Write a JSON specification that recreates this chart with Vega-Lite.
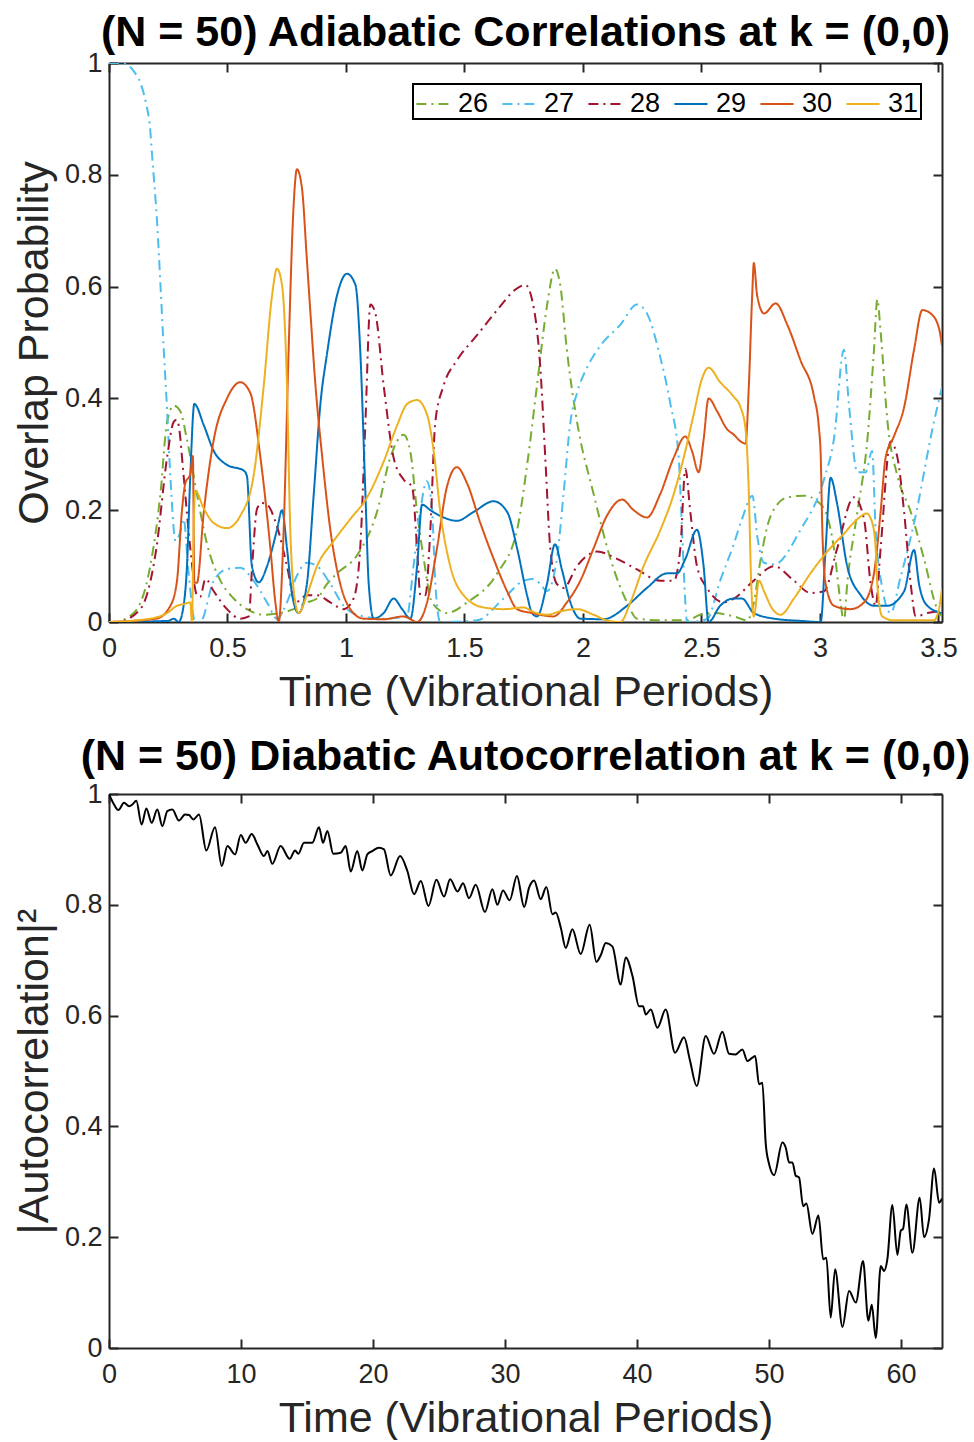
{
"$schema": "https://vega.github.io/schema/vega-lite/v6.json",
"background": "white",
"autosize": {"type": "pad"},
"padding": {"left": 13, "top": 12, "right": 0, "bottom": 0},
"spacing": 22,
"config": {
  "font": "Liberation Sans",
  "view": {"stroke": null},
  "axis": {"domainColor": "#262626", "domainWidth": 2, "tickColor": "#262626", "tickWidth": 2, "tickSize": -9, "labelFont": "Liberation Sans", "labelFontSize": 27, "labelColor": "#262626", "titleFont": "Liberation Sans", "titleFontSize": 43, "titleFontWeight": "normal", "titleColor": "#262626", "grid": false, "labelFlush": false, "labelOverlap": false},
  "title": {"font": "Liberation Sans", "fontSize": 43, "fontWeight": "bold", "color": "black", "frame": "group", "anchor": "middle", "offset": -6}
},
"datasets": {
"top": [
{"s":"26","t":0,"v":0},{"s":"26","t":0.02,"v":0},{"s":"26","t":0.104,"v":0.016},{"s":"26","t":0.174,"v":0.1},{"s":"26","t":0.217,"v":0.229},{"s":"26","t":0.245,"v":0.358},{"s":"26","t":0.273,"v":0.387},{"s":"26","t":0.301,"v":0.377},{"s":"26","t":0.329,"v":0.326},{"s":"26","t":0.371,"v":0.229},{"s":"26","t":0.414,"v":0.139},{"s":"26","t":0.47,"v":0.074},{"s":"26","t":0.526,"v":0.042},{"s":"26","t":0.582,"v":0.023},{"s":"26","t":0.653,"v":0.013},{"s":"26","t":0.723,"v":0.016},{"s":"26","t":0.779,"v":0.023},{"s":"26","t":0.835,"v":0.035},{"s":"26","t":0.878,"v":0.042},{"s":"26","t":0.92,"v":0.068},{"s":"26","t":0.962,"v":0.087},{"s":"26","t":1.046,"v":0.119},{"s":"26","t":1.131,"v":0.197},{"s":"26","t":1.187,"v":0.294},{"s":"26","t":1.243,"v":0.335},{"s":"26","t":1.271,"v":0.306},{"s":"26","t":1.3,"v":0.197},{"s":"26","t":1.328,"v":0.113},{"s":"26","t":1.363,"v":0.035},{"s":"26","t":1.426,"v":0.016},{"s":"26","t":1.511,"v":0.035},{"s":"26","t":1.638,"v":0.087},{"s":"26","t":1.722,"v":0.165},{"s":"26","t":1.764,"v":0.28},{"s":"26","t":1.806,"v":0.423},{"s":"26","t":1.848,"v":0.565},{"s":"26","t":1.882,"v":0.632},{"s":"26","t":1.904,"v":0.603},{"s":"26","t":1.932,"v":0.487},{"s":"26","t":1.975,"v":0.358},{"s":"26","t":2.045,"v":0.229},{"s":"26","t":2.116,"v":0.113},{"s":"26","t":2.186,"v":0.035},{"s":"26","t":2.228,"v":0.006},{"s":"26","t":2.327,"v":0.003},{"s":"26","t":2.439,"v":0.003},{"s":"26","t":2.495,"v":0.013},{"s":"26","t":2.552,"v":0.016},{"s":"26","t":2.637,"v":0.01},{"s":"26","t":2.693,"v":0.003},{"s":"26","t":2.721,"v":0.035},{"s":"26","t":2.75,"v":0.113},{"s":"26","t":2.792,"v":0.19},{"s":"26","t":2.862,"v":0.223},{"s":"26","t":2.932,"v":0.226},{"s":"26","t":2.989,"v":0.216},{"s":"26","t":3.03,"v":0.19},{"s":"26","t":3.059,"v":0.132},{"s":"26","t":3.087,"v":0.035},{"s":"26","t":3.101,"v":0},{"s":"26","t":3.115,"v":0.068},{"s":"26","t":3.158,"v":0.197},{"s":"26","t":3.2,"v":0.326},{"s":"26","t":3.228,"v":0.487},{"s":"26","t":3.242,"v":0.577},{"s":"26","t":3.256,"v":0.519},{"s":"26","t":3.285,"v":0.358},{"s":"26","t":3.327,"v":0.261},{"s":"26","t":3.383,"v":0.197},{"s":"26","t":3.439,"v":0.113},{"s":"26","t":3.495,"v":0.023},{"s":"26","t":3.515,"v":0.01},
{"s":"27","t":0,"v":1},{"s":"27","t":0.05,"v":1},{"s":"27","t":0.076,"v":0.997},{"s":"27","t":0.105,"v":0.985},{"s":"27","t":0.132,"v":0.965},{"s":"27","t":0.155,"v":0.93},{"s":"27","t":0.174,"v":0.88},{"s":"27","t":0.182,"v":0.834},{"s":"27","t":0.203,"v":0.714},{"s":"27","t":0.218,"v":0.596},{"s":"27","t":0.232,"v":0.48},{"s":"27","t":0.245,"v":0.38},{"s":"27","t":0.26,"v":0.252},{"s":"27","t":0.281,"v":0.145},{"s":"27","t":0.3,"v":0.16},{"s":"27","t":0.315,"v":0.184},{"s":"27","t":0.336,"v":0.087},{"s":"27","t":0.364,"v":0},{"s":"27","t":0.385,"v":0},{"s":"27","t":0.442,"v":0.074},{"s":"27","t":0.5,"v":0.095},{"s":"27","t":0.554,"v":0.097},{"s":"27","t":0.61,"v":0.074},{"s":"27","t":0.667,"v":0.035},{"s":"27","t":0.709,"v":0.006},{"s":"27","t":0.751,"v":0.035},{"s":"27","t":0.79,"v":0.08},{"s":"27","t":0.835,"v":0.106},{"s":"27","t":0.878,"v":0.1},{"s":"27","t":0.934,"v":0.068},{"s":"27","t":0.99,"v":0.029},{"s":"27","t":1.046,"v":0.013},{"s":"27","t":1.159,"v":0.006},{"s":"27","t":1.257,"v":0.01},{"s":"27","t":1.285,"v":0.1},{"s":"27","t":1.313,"v":0.197},{"s":"27","t":1.341,"v":0.252},{"s":"27","t":1.363,"v":0.203},{"s":"27","t":1.377,"v":0.068},{"s":"27","t":1.398,"v":0},{"s":"27","t":1.553,"v":0.003},{"s":"27","t":1.665,"v":0.042},{"s":"27","t":1.75,"v":0.074},{"s":"27","t":1.785,"v":0.077},{"s":"27","t":1.82,"v":0.068},{"s":"27","t":1.848,"v":0.055},{"s":"27","t":1.89,"v":0.113},{"s":"27","t":1.918,"v":0.229},{"s":"27","t":1.947,"v":0.358},{"s":"27","t":1.975,"v":0.41},{"s":"27","t":2.017,"v":0.455},{"s":"27","t":2.073,"v":0.494},{"s":"27","t":2.158,"v":0.532},{"s":"27","t":2.228,"v":0.568},{"s":"27","t":2.27,"v":0.552},{"s":"27","t":2.326,"v":0.474},{"s":"27","t":2.369,"v":0.39},{"s":"27","t":2.404,"v":0.294},{"s":"27","t":2.418,"v":0.165},{"s":"27","t":2.432,"v":0.035},{"s":"27","t":2.439,"v":0},{"s":"27","t":2.523,"v":0.005},{"s":"27","t":2.579,"v":0.074},{"s":"27","t":2.636,"v":0.139},{"s":"27","t":2.671,"v":0.184},{"s":"27","t":2.715,"v":0.226},{"s":"27","t":2.736,"v":0.152},{"s":"27","t":2.764,"v":0.106},{"s":"27","t":2.806,"v":0.103},{"s":"27","t":2.918,"v":0.165},{"s":"27","t":3.017,"v":0.255},{"s":"27","t":3.06,"v":0.33},{"s":"27","t":3.101,"v":0.487},{"s":"27","t":3.122,"v":0.39},{"s":"27","t":3.158,"v":0.268},{"s":"27","t":3.193,"v":0.268},{"s":"27","t":3.22,"v":0.306},{"s":"27","t":3.235,"v":0.165},{"s":"27","t":3.263,"v":0.061},{"s":"27","t":3.298,"v":0.016},{"s":"27","t":3.34,"v":0.08},{"s":"27","t":3.397,"v":0.177},{"s":"27","t":3.481,"v":0.358},{"s":"27","t":3.515,"v":0.42},
{"s":"28","t":0,"v":0},{"s":"28","t":0.034,"v":0},{"s":"28","t":0.132,"v":0.023},{"s":"28","t":0.2,"v":0.132},{"s":"28","t":0.245,"v":0.294},{"s":"28","t":0.273,"v":0.358},{"s":"28","t":0.285,"v":0.362},{"s":"28","t":0.294,"v":0.352},{"s":"28","t":0.315,"v":0.261},{"s":"28","t":0.343,"v":0.132},{"s":"28","t":0.371,"v":0.048},{"s":"28","t":0.385,"v":0.045},{"s":"28","t":0.407,"v":0.077},{"s":"28","t":0.442,"v":0.055},{"s":"28","t":0.498,"v":0.023},{"s":"28","t":0.554,"v":0.006},{"s":"28","t":0.59,"v":0.01},{"s":"28","t":0.604,"v":0.1},{"s":"28","t":0.625,"v":0.203},{"s":"28","t":0.645,"v":0.213},{"s":"28","t":0.667,"v":0.21},{"s":"28","t":0.709,"v":0.171},{"s":"28","t":0.751,"v":0.1},{"s":"28","t":0.787,"v":0.035},{"s":"28","t":0.835,"v":0.048},{"s":"28","t":0.878,"v":0.048},{"s":"28","t":0.934,"v":0.035},{"s":"28","t":0.99,"v":0.023},{"s":"28","t":1.032,"v":0.042},{"s":"28","t":1.06,"v":0.132},{"s":"28","t":1.082,"v":0.358},{"s":"28","t":1.103,"v":0.568},{"s":"28","t":1.124,"v":0.552},{"s":"28","t":1.159,"v":0.423},{"s":"28","t":1.201,"v":0.294},{"s":"28","t":1.243,"v":0.255},{"s":"28","t":1.279,"v":0.242},{"s":"28","t":1.3,"v":0.132},{"s":"28","t":1.314,"v":0.048},{"s":"28","t":1.335,"v":0.048},{"s":"28","t":1.356,"v":0.165},{"s":"28","t":1.377,"v":0.358},{"s":"28","t":1.412,"v":0.423},{"s":"28","t":1.468,"v":0.468},{"s":"28","t":1.553,"v":0.513},{"s":"28","t":1.638,"v":0.558},{"s":"28","t":1.722,"v":0.597},{"s":"28","t":1.757,"v":0.603},{"s":"28","t":1.785,"v":0.577},{"s":"28","t":1.82,"v":0.455},{"s":"28","t":1.841,"v":0.294},{"s":"28","t":1.862,"v":0.132},{"s":"28","t":1.89,"v":0.068},{"s":"28","t":1.918,"v":0.061},{"s":"28","t":1.975,"v":0.1},{"s":"28","t":2.059,"v":0.126},{"s":"28","t":2.144,"v":0.113},{"s":"28","t":2.228,"v":0.094},{"s":"28","t":2.327,"v":0.074},{"s":"28","t":2.383,"v":0.074},{"s":"28","t":2.411,"v":0.132},{"s":"28","t":2.432,"v":0.274},{"s":"28","t":2.453,"v":0.197},{"s":"28","t":2.481,"v":0.1},{"s":"28","t":2.523,"v":0.061},{"s":"28","t":2.594,"v":0.035},{"s":"28","t":2.637,"v":0.042},{"s":"28","t":2.721,"v":0.074},{"s":"28","t":2.806,"v":0.1},{"s":"28","t":2.89,"v":0.074},{"s":"28","t":2.96,"v":0.052},{"s":"28","t":3.017,"v":0.055},{"s":"28","t":3.073,"v":0.132},{"s":"28","t":3.143,"v":0.223},{"s":"28","t":3.186,"v":0.184},{"s":"28","t":3.214,"v":0.068},{"s":"28","t":3.235,"v":0.029},{"s":"28","t":3.256,"v":0.132},{"s":"28","t":3.298,"v":0.323},{"s":"28","t":3.327,"v":0.294},{"s":"28","t":3.355,"v":0.197},{"s":"28","t":3.383,"v":0.068},{"s":"28","t":3.404,"v":0.01},{"s":"28","t":3.453,"v":0.016},{"s":"28","t":3.515,"v":0.02},
{"s":"29","t":0,"v":0},{"s":"29","t":0.25,"v":0.002},{"s":"29","t":0.273,"v":0.006},{"s":"29","t":0.294,"v":0},{"s":"29","t":0.315,"v":0.03},{"s":"29","t":0.329,"v":0.1},{"s":"29","t":0.343,"v":0.261},{"s":"29","t":0.36,"v":0.39},{"s":"29","t":0.4,"v":0.352},{"s":"29","t":0.442,"v":0.306},{"s":"29","t":0.498,"v":0.281},{"s":"29","t":0.568,"v":0.271},{"s":"29","t":0.582,"v":0.261},{"s":"29","t":0.603,"v":0.1},{"s":"29","t":0.632,"v":0.071},{"s":"29","t":0.667,"v":0.1},{"s":"29","t":0.709,"v":0.165},{"s":"29","t":0.73,"v":0.2},{"s":"29","t":0.751,"v":0.132},{"s":"29","t":0.773,"v":0.048},{"s":"29","t":0.8,"v":0.016},{"s":"29","t":0.835,"v":0.068},{"s":"29","t":0.864,"v":0.229},{"s":"29","t":0.892,"v":0.39},{"s":"29","t":0.92,"v":0.48},{"s":"29","t":0.962,"v":0.584},{"s":"29","t":1.004,"v":0.623},{"s":"29","t":1.04,"v":0.603},{"s":"29","t":1.06,"v":0.487},{"s":"29","t":1.082,"v":0.229},{"s":"29","t":1.096,"v":0.068},{"s":"29","t":1.117,"v":0.006},{"s":"29","t":1.159,"v":0.016},{"s":"29","t":1.201,"v":0.042},{"s":"29","t":1.237,"v":0.023},{"s":"29","t":1.272,"v":0.006},{"s":"29","t":1.3,"v":0.1},{"s":"29","t":1.321,"v":0.21},{"s":"29","t":1.356,"v":0.2},{"s":"29","t":1.412,"v":0.187},{"s":"29","t":1.468,"v":0.181},{"s":"29","t":1.539,"v":0.197},{"s":"29","t":1.623,"v":0.216},{"s":"29","t":1.68,"v":0.197},{"s":"29","t":1.722,"v":0.132},{"s":"29","t":1.764,"v":0.048},{"s":"29","t":1.785,"v":0.016},{"s":"29","t":1.806,"v":0.01},{"s":"29","t":1.848,"v":0.068},{"s":"29","t":1.882,"v":0.139},{"s":"29","t":1.911,"v":0.094},{"s":"29","t":1.947,"v":0.035},{"s":"29","t":1.989,"v":0.006},{"s":"29","t":2.087,"v":0.005},{"s":"29","t":2.186,"v":0.029},{"s":"29","t":2.27,"v":0.061},{"s":"29","t":2.355,"v":0.087},{"s":"29","t":2.397,"v":0.087},{"s":"29","t":2.432,"v":0.113},{"s":"29","t":2.481,"v":0.165},{"s":"29","t":2.509,"v":0.1},{"s":"29","t":2.53,"v":0},{"s":"29","t":2.579,"v":0.029},{"s":"29","t":2.636,"v":0.042},{"s":"29","t":2.671,"v":0.042},{"s":"29","t":2.721,"v":0.016},{"s":"29","t":2.806,"v":0.006},{"s":"29","t":2.918,"v":0.002},{"s":"29","t":3.003,"v":0},{"s":"29","t":3.024,"v":0.132},{"s":"29","t":3.045,"v":0.258},{"s":"29","t":3.073,"v":0.21},{"s":"29","t":3.115,"v":0.1},{"s":"29","t":3.172,"v":0.048},{"s":"29","t":3.228,"v":0.029},{"s":"29","t":3.284,"v":0.029},{"s":"29","t":3.355,"v":0.055},{"s":"29","t":3.397,"v":0.129},{"s":"29","t":3.418,"v":0.068},{"s":"29","t":3.453,"v":0.029},{"s":"29","t":3.515,"v":0.016},
{"s":"30","t":0,"v":0},{"s":"30","t":0.2,"v":0.006},{"s":"30","t":0.259,"v":0.029},{"s":"30","t":0.287,"v":0.074},{"s":"30","t":0.308,"v":0.2},{"s":"30","t":0.322,"v":0.248},{"s":"30","t":0.343,"v":0.265},{"s":"30","t":0.354,"v":0.297},{"s":"30","t":0.36,"v":0.07},{"s":"30","t":0.371,"v":0.07},{"s":"30","t":0.4,"v":0.197},{"s":"30","t":0.442,"v":0.326},{"s":"30","t":0.498,"v":0.4},{"s":"30","t":0.554,"v":0.429},{"s":"30","t":0.596,"v":0.41},{"s":"30","t":0.639,"v":0.294},{"s":"30","t":0.681,"v":0.132},{"s":"30","t":0.702,"v":0.035},{"s":"30","t":0.716,"v":0},{"s":"30","t":0.737,"v":0.165},{"s":"30","t":0.758,"v":0.487},{"s":"30","t":0.779,"v":0.745},{"s":"30","t":0.793,"v":0.81},{"s":"30","t":0.814,"v":0.777},{"s":"30","t":0.835,"v":0.648},{"s":"30","t":0.852,"v":0.54},{"s":"30","t":0.87,"v":0.43},{"s":"30","t":0.9,"v":0.294},{"s":"30","t":0.934,"v":0.165},{"s":"30","t":0.976,"v":0.068},{"s":"30","t":1.018,"v":0.023},{"s":"30","t":1.074,"v":0.006},{"s":"30","t":1.159,"v":0.005},{"s":"30","t":1.243,"v":0.01},{"s":"30","t":1.3,"v":0},{"s":"30","t":1.342,"v":0.035},{"s":"30","t":1.384,"v":0.132},{"s":"30","t":1.426,"v":0.242},{"s":"30","t":1.468,"v":0.277},{"s":"30","t":1.511,"v":0.248},{"s":"30","t":1.567,"v":0.177},{"s":"30","t":1.623,"v":0.113},{"s":"30","t":1.68,"v":0.055},{"s":"30","t":1.722,"v":0.023},{"s":"30","t":1.785,"v":0.016},{"s":"30","t":1.876,"v":0.01},{"s":"30","t":1.932,"v":0.035},{"s":"30","t":1.989,"v":0.074},{"s":"30","t":2.045,"v":0.132},{"s":"30","t":2.101,"v":0.19},{"s":"30","t":2.165,"v":0.219},{"s":"30","t":2.214,"v":0.2},{"s":"30","t":2.27,"v":0.187},{"s":"30","t":2.326,"v":0.229},{"s":"30","t":2.383,"v":0.294},{"s":"30","t":2.432,"v":0.332},{"s":"30","t":2.46,"v":0.306},{"s":"30","t":2.488,"v":0.268},{"s":"30","t":2.509,"v":0.326},{"s":"30","t":2.53,"v":0.4},{"s":"30","t":2.566,"v":0.377},{"s":"30","t":2.608,"v":0.345},{"s":"30","t":2.637,"v":0.335},{"s":"30","t":2.665,"v":0.323},{"s":"30","t":2.686,"v":0.319},{"s":"30","t":2.7,"v":0.423},{"s":"30","t":2.714,"v":0.584},{"s":"30","t":2.721,"v":0.642},{"s":"30","t":2.735,"v":0.584},{"s":"30","t":2.764,"v":0.552},{"s":"30","t":2.813,"v":0.57},{"s":"30","t":2.862,"v":0.532},{"s":"30","t":2.918,"v":0.468},{"s":"30","t":2.975,"v":0.403},{"s":"30","t":2.995,"v":0.35},{"s":"30","t":3.003,"v":0.3},{"s":"30","t":3.01,"v":0.165},{"s":"30","t":3.024,"v":0.068},{"s":"30","t":3.059,"v":0.029},{"s":"30","t":3.129,"v":0.023},{"s":"30","t":3.186,"v":0.035},{"s":"30","t":3.228,"v":0.087},{"s":"30","t":3.256,"v":0.197},{"s":"30","t":3.277,"v":0.294},{"s":"30","t":3.312,"v":0.332},{"s":"30","t":3.355,"v":0.384},{"s":"30","t":3.397,"v":0.487},{"s":"30","t":3.432,"v":0.558},{"s":"30","t":3.467,"v":0.552},{"s":"30","t":3.502,"v":0.526},{"s":"30","t":3.515,"v":0.494},
{"s":"31","t":0,"v":0},{"s":"31","t":0.174,"v":0.006},{"s":"31","t":0.245,"v":0.016},{"s":"31","t":0.287,"v":0.029},{"s":"31","t":0.315,"v":0.032},{"s":"31","t":0.343,"v":0.035},{"s":"31","t":0.35,"v":0},{"s":"31","t":0.357,"v":0.165},{"s":"31","t":0.364,"v":0.235},{"s":"31","t":0.4,"v":0.203},{"s":"31","t":0.442,"v":0.177},{"s":"31","t":0.498,"v":0.168},{"s":"31","t":0.554,"v":0.19},{"s":"31","t":0.61,"v":0.261},{"s":"31","t":0.653,"v":0.423},{"s":"31","t":0.688,"v":0.584},{"s":"31","t":0.709,"v":0.632},{"s":"31","t":0.73,"v":0.603},{"s":"31","t":0.751,"v":0.423},{"s":"31","t":0.765,"v":0.165},{"s":"31","t":0.786,"v":0.035},{"s":"31","t":0.8,"v":0.016},{"s":"31","t":0.835,"v":0.048},{"s":"31","t":0.878,"v":0.1},{"s":"31","t":0.948,"v":0.145},{"s":"31","t":1.018,"v":0.184},{"s":"31","t":1.089,"v":0.223},{"s":"31","t":1.159,"v":0.287},{"s":"31","t":1.216,"v":0.352},{"s":"31","t":1.258,"v":0.39},{"s":"31","t":1.3,"v":0.397},{"s":"31","t":1.342,"v":0.371},{"s":"31","t":1.37,"v":0.306},{"s":"31","t":1.398,"v":0.197},{"s":"31","t":1.44,"v":0.1},{"s":"31","t":1.496,"v":0.048},{"s":"31","t":1.581,"v":0.026},{"s":"31","t":1.665,"v":0.023},{"s":"31","t":1.75,"v":0.026},{"s":"31","t":1.785,"v":0.019},{"s":"31","t":1.848,"v":0.013},{"s":"31","t":1.904,"v":0.019},{"s":"31","t":1.975,"v":0.023},{"s":"31","t":2.045,"v":0.013},{"s":"31","t":2.101,"v":0.003},{"s":"31","t":2.158,"v":0},{"s":"31","t":2.2,"v":0.035},{"s":"31","t":2.256,"v":0.1},{"s":"31","t":2.327,"v":0.165},{"s":"31","t":2.383,"v":0.229},{"s":"31","t":2.425,"v":0.294},{"s":"31","t":2.467,"v":0.371},{"s":"31","t":2.502,"v":0.435},{"s":"31","t":2.53,"v":0.455},{"s":"31","t":2.579,"v":0.429},{"s":"31","t":2.636,"v":0.403},{"s":"31","t":2.665,"v":0.384},{"s":"31","t":2.686,"v":0.345},{"s":"31","t":2.7,"v":0.229},{"s":"31","t":2.71,"v":0.068},{"s":"31","t":2.721,"v":0.01},{"s":"31","t":2.743,"v":0.074},{"s":"31","t":2.764,"v":0.055},{"s":"31","t":2.8,"v":0.023},{"s":"31","t":2.834,"v":0.013},{"s":"31","t":2.89,"v":0.042},{"s":"31","t":2.96,"v":0.087},{"s":"31","t":3.031,"v":0.126},{"s":"31","t":3.101,"v":0.158},{"s":"31","t":3.158,"v":0.184},{"s":"31","t":3.197,"v":0.194},{"s":"31","t":3.221,"v":0.177},{"s":"31","t":3.235,"v":0.132},{"s":"31","t":3.242,"v":0.068},{"s":"31","t":3.263,"v":0.01},{"s":"31","t":3.312,"v":0.003},{"s":"31","t":3.481,"v":0.003},{"s":"31","t":3.502,"v":0.023},{"s":"31","t":3.515,"v":0.06}
],
"bottom": [
{"t":0,"v":1},{"t":0.38,"v":0.981},{"t":0.71,"v":0.971},{"t":1.14,"v":0.984},{"t":1.52,"v":0.978},{"t":1.77,"v":0.981},{"t":2.07,"v":0.988},{"t":2.47,"v":0.945},{"t":2.83,"v":0.974},{"t":3.23,"v":0.948},{"t":3.66,"v":0.972},{"t":4.04,"v":0.942},{"t":4.42,"v":0.969},{"t":4.8,"v":0.972},{"t":5.3,"v":0.952},{"t":5.76,"v":0.963},{"t":6.06,"v":0.962},{"t":6.39,"v":0.954},{"t":6.82,"v":0.963},{"t":7.37,"v":0.898},{"t":8.03,"v":0.94},{"t":8.54,"v":0.87},{"t":8.97,"v":0.906},{"t":9.55,"v":0.891},{"t":9.98,"v":0.926},{"t":10.35,"v":0.912},{"t":10.81,"v":0.928},{"t":11.24,"v":0.909},{"t":11.74,"v":0.888},{"t":12.0,"v":0.897},{"t":12.37,"v":0.874},{"t":13.0,"v":0.906},{"t":13.69,"v":0.883},{"t":14.09,"v":0.898},{"t":14.34,"v":0.892},{"t":14.77,"v":0.912},{"t":15.4,"v":0.912},{"t":15.91,"v":0.94},{"t":16.21,"v":0.912},{"t":16.54,"v":0.933},{"t":16.99,"v":0.892},{"t":17.55,"v":0.894},{"t":17.93,"v":0.906},{"t":18.31,"v":0.86},{"t":18.81,"v":0.897},{"t":19.19,"v":0.862},{"t":19.57,"v":0.891},{"t":19.95,"v":0.897},{"t":20.45,"v":0.903},{"t":20.83,"v":0.9},{"t":21.34,"v":0.853},{"t":22.05,"v":0.888},{"t":22.6,"v":0.861},{"t":23.11,"v":0.819},{"t":23.62,"v":0.843},{"t":24.2,"v":0.798},{"t":24.8,"v":0.845},{"t":25.38,"v":0.815},{"t":25.84,"v":0.846},{"t":26.4,"v":0.824},{"t":26.82,"v":0.839},{"t":27.27,"v":0.812},{"t":27.78,"v":0.836},{"t":28.48,"v":0.787},{"t":29.04,"v":0.828},{"t":29.42,"v":0.8},{"t":29.85,"v":0.826},{"t":30.35,"v":0.808},{"t":30.9,"v":0.852},{"t":31.45,"v":0.796},{"t":31.82,"v":0.831},{"t":32.2,"v":0.844},{"t":32.7,"v":0.81},{"t":33.13,"v":0.832},{"t":33.59,"v":0.783},{"t":33.84,"v":0.786},{"t":34.22,"v":0.759},{"t":34.6,"v":0.722},{"t":35.1,"v":0.756},{"t":35.73,"v":0.711},{"t":36.41,"v":0.764},{"t":36.92,"v":0.697},{"t":37.25,"v":0.709},{"t":37.63,"v":0.731},{"t":38.13,"v":0.725},{"t":38.76,"v":0.656},{"t":39.14,"v":0.705},{"t":39.65,"v":0.672},{"t":40.15,"v":0.617},{"t":40.45,"v":0.617},{"t":40.66,"v":0.602},{"t":41.04,"v":0.611},{"t":41.54,"v":0.578},{"t":42.17,"v":0.611},{"t":42.88,"v":0.533},{"t":43.56,"v":0.561},{"t":44.0,"v":0.52},{"t":44.52,"v":0.473},{"t":45.2,"v":0.563},{"t":45.83,"v":0.531},{"t":46.46,"v":0.571},{"t":46.97,"v":0.531},{"t":47.47,"v":0.53},{"t":47.98,"v":0.539},{"t":48.36,"v":0.518},{"t":48.74,"v":0.524},{"t":48.95,"v":0.527},{"t":49.24,"v":0.476},{"t":49.49,"v":0.479},{"t":49.75,"v":0.368},{"t":50.0,"v":0.332},{"t":50.38,"v":0.312},{"t":51.01,"v":0.371},{"t":51.26,"v":0.362},{"t":51.52,"v":0.335},{"t":51.77,"v":0.335},{"t":52.02,"v":0.311},{"t":52.27,"v":0.308},{"t":52.58,"v":0.256},{"t":52.83,"v":0.261},{"t":53.28,"v":0.206},{"t":53.74,"v":0.239},{"t":54.1,"v":0.16},{"t":54.34,"v":0.163},{"t":54.67,"v":0.055},{"t":55.0,"v":0.142},{"t":55.56,"v":0.038},{"t":56.06,"v":0.103},{"t":56.57,"v":0.082},{"t":57.12,"v":0.157},{"t":57.52,"v":0.049},{"t":57.78,"v":0.078},{"t":58.08,"v":0.018},{"t":58.46,"v":0.148},{"t":58.71,"v":0.139},{"t":58.96,"v":0.16},{"t":59.34,"v":0.258},{"t":59.72,"v":0.168},{"t":59.98,"v":0.212},{"t":60.15,"v":0.215},{"t":60.4,"v":0.259},{"t":60.86,"v":0.172},{"t":61.41,"v":0.271},{"t":61.74,"v":0.2},{"t":62.12,"v":0.233},{"t":62.5,"v":0.324},{"t":62.88,"v":0.262},{"t":63.1,"v":0.27}
]
},
"vconcat": [
{
  "width": 833, "height": 559,
  "title": "(N = 50) Adiabatic Correlations at k = (0,0)",
  "data": {"name": "top"},
  "resolve": {"axis": {"x": "independent", "y": "independent"}},
  "layer": [
    {
      "mark": {"type": "line", "interpolate": "monotone", "strokeWidth": 2, "clip": true},
      "encoding": {
        "x": {"field": "t", "type": "quantitative", "scale": {"domain": [0, 3.515], "nice": false, "zero": false},
              "axis": {"orient": "bottom", "values": [0, 0.5, 1, 1.5, 2, 2.5, 3, 3.5], "format": "~g", "title": "Time (Vibrational Periods)", "labelPadding": 22, "titlePadding": 10}},
        "y": {"field": "v", "type": "quantitative", "scale": {"domain": [0, 1], "nice": false, "zero": false},
              "axis": {"orient": "left", "values": [0, 0.2, 0.4, 0.6, 0.8, 1], "format": "~g", "title": "Overlap Probability", "labelPadding": 16, "titlePadding": 8}},
        "color": {"field": "s", "type": "nominal",
                  "scale": {"domain": ["26", "27", "28", "29", "30", "31"], "range": ["#77AC30", "#4DBEEE", "#A2142F", "#0072BD", "#D95319", "#EDB120"]},
                  "legend": {"title": null, "orient": "top-right", "offset": 21, "direction": "horizontal", "columns": 6, "symbolType": "stroke", "symbolSize": 1100, "symbolStrokeWidth": 2, "labelFontSize": 27, "labelColor": "black", "labelFont": "Liberation Sans", "labelOffset": 7, "columnPadding": 9, "padding": 2, "strokeColor": "black", "fillColor": "white",
                             "encode": {"legend": {"update": {"strokeWidth": {"value": 2}}}}}
        },
        "strokeDash": {"field": "s", "type": "nominal",
                       "scale": {"domain": ["26", "27", "28", "29", "30", "31"], "range": [[10, 5, 2, 5], [10, 5, 2, 5], [10, 5, 2, 5], [1, 0], [1, 0], [1, 0]]}}
      }
    },
    {
      "mark": {"type": "line", "opacity": 0},
      "encoding": {
        "x": {"field": "t", "type": "quantitative", "axis": {"orient": "top", "values": [0, 0.5, 1, 1.5, 2, 2.5, 3, 3.5], "labels": false, "title": null}},
        "y": {"field": "v", "type": "quantitative", "axis": {"orient": "right", "values": [0, 0.2, 0.4, 0.6, 0.8, 1], "labels": false, "title": null}}
      }
    }
  ]
},
{
  "width": 833, "height": 554,
  "title": {"text": "(N = 50) Diabatic Autocorrelation at k = (0,0)", "offset": 1},
  "data": {"name": "bottom"},
  "resolve": {"axis": {"x": "independent", "y": "independent"}},
  "layer": [
    {
      "mark": {"type": "line", "interpolate": "monotone", "strokeWidth": 2, "color": "black", "clip": true},
      "encoding": {
        "x": {"field": "t", "type": "quantitative", "scale": {"domain": [0, 63.1], "nice": false, "zero": false},
              "axis": {"orient": "bottom", "values": [0, 10, 20, 30, 40, 50, 60], "format": "d", "title": "Time (Vibrational Periods)", "labelPadding": 22, "titlePadding": 10}},
        "y": {"field": "v", "type": "quantitative", "scale": {"domain": [0, 1], "nice": false, "zero": false},
              "axis": {"orient": "left", "values": [0, 0.2, 0.4, 0.6, 0.8, 1], "format": "~g", "title": "|Autocorrelation|²", "labelPadding": 16, "titlePadding": 8}}
      }
    },
    {
      "mark": {"type": "line", "opacity": 0},
      "encoding": {
        "x": {"field": "t", "type": "quantitative", "axis": {"orient": "top", "values": [0, 10, 20, 30, 40, 50, 60], "labels": false, "title": null}},
        "y": {"field": "v", "type": "quantitative", "axis": {"orient": "right", "values": [0, 0.2, 0.4, 0.6, 0.8, 1], "labels": false, "title": null}}
      }
    }
  ]
}
]
}
